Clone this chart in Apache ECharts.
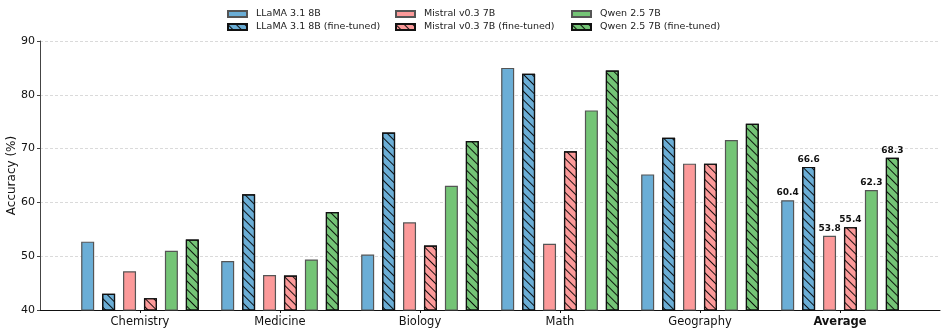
<!DOCTYPE html>
<html>
<head>
<meta charset="utf-8">
<title>Accuracy by subject</title>
<script src="https://cdn.jsdelivr.net/npm/echarts@6/dist/echarts.min.js"></script>
<style>
  html, body { margin: 0; padding: 0; background: #fff; }
  #chart { width: 946px; height: 332px; }
</style>
</head>
<body>
<div id="chart"></div>
<script>
// 数据
var categories = ['Chemistry', 'Medicine', 'Biology', 'Math', 'Geography', 'Average'];
var seriesNames = ['LLaMA 3.1 8B', 'LLaMA 3.1 8B (fine-tuned)', 'Mistral v0.3 7B', 'Mistral v0.3 7B (fine-tuned)', 'Qwen 2.5 7B', 'Qwen 2.5 7B (fine-tuned)'];
var llama     = [52.7, 49.1, 50.3, 85.0, 65.2, 60.4];
var llamaFt   = [43.0, 61.5, 73.0, 83.9, 72.0, 66.6];
var mistral   = [47.2, 46.5, 56.3, 52.3, 67.2, 53.8];
var mistralFt = [42.2, 46.4, 52.0, 69.5, 67.2, 55.4];
var qwen      = [51.0, 49.4, 63.1, 77.1, 71.6, 62.3];
var qwenFt    = [53.1, 58.2, 71.4, 84.5, 74.6, 68.3];
var yTicks = [40, 50, 60, 70, 80, 90];

var font = 'DejaVu Sans';
var colors = ['#6baed6', '#6baed6', '#fc9a9a', '#fc9a9a', '#74c476', '#74c476'];
var hatched = [false, true, false, true, false, true];
var values = [llama, llamaFt, mistral, mistralFt, qwen, qwenFt];

var chart = echarts.init(document.getElementById('chart'));

// 斜线填充 (\\\)，rotation 为正时是反斜线
var hatch = {
    symbol: 'rect',
    symbolSize: 1,
    color: 'rgba(0,0,0,0.9)',
    dashArrayX: [1, 0],
    dashArrayY: [1, 5],
    rotation: Math.PI / 4
};

var series = values.map(function (arr, s) {
    return {
        name: seriesNames[s],
        type: 'bar',
        xAxisIndex: 1,
        yAxisIndex: 1,
        barWidth: 13,
        barGap: '61%',
        itemStyle: {
            color: colors[s],
            borderColor: hatched[s] ? '#111' : '#555',
            borderWidth: 1.2,
            decal: hatched[s] ? hatch : null
        },
        emphasis: { disabled: true },
        data: arr.map(function (v, i) {
            return {
                value: v,
                label: {
                    show: categories[i] === 'Average',
                    position: 'top',
                    distance: 3,
                    fontFamily: font,
                    fontWeight: 'bold',
                    fontSize: 9,
                    color: '#111',
                    formatter: function (p) { return p.value.toFixed(1); }
                }
            };
        })
    };
});

function legendBlock(left, names) {
    return {
        orient: 'vertical',
        left: left,
        top: 9,
        padding: 0,
        itemWidth: 19,
        itemHeight: 6,
        itemGap: 3,
        icon: 'rect',
        data: names,
        textStyle: { fontFamily: font, fontSize: 9.5, color: '#222', padding: [0, 0, 0, 4] }
    };
}

var option = {
    animation: false,
    backgroundColor: '#fff',
    legend: [
        legendBlock(227, seriesNames.slice(0, 2)),
        legendBlock(395, seriesNames.slice(2, 4)),
        legendBlock(571, seriesNames.slice(4, 6))
    ],
    grid: [
        { left: 40, right: 6, top: 41, bottom: 22, outerBoundsMode: 'none' },
        { left: 70, right: 36, top: 41, bottom: 22, outerBoundsMode: 'none' }
    ],
    xAxis: [
        {
            type: 'value', gridIndex: 0, min: 0, max: 1,
            axisLine: { show: true, onZero: false, lineStyle: { color: '#111', width: 1 } },
            axisTick: { show: false }, axisLabel: { show: false }, splitLine: { show: false }
        },
        {
            type: 'category', gridIndex: 1, data: categories,
            axisLine: { show: false },
            axisTick: { show: true, alignWithLabel: true, length: 3, lineStyle: { color: '#111' } },
            axisLabel: {
                fontFamily: font, fontSize: 11.5, color: '#111', margin: 6,
                formatter: function (v) { return v === 'Average' ? '{b|' + v + '}' : v; },
                rich: { b: { fontFamily: font, fontSize: 11.5, fontWeight: 'bold', color: '#111' } }
            }
        }
    ],
    yAxis: [
        {
            type: 'value', gridIndex: 0,
            min: yTicks[0], max: yTicks[yTicks.length - 1], interval: 10,
            name: 'Accuracy (%)', nameLocation: 'middle', nameGap: 22, nameMoveOverlap: false,
            nameTextStyle: { fontFamily: font, fontSize: 12, color: '#111' },
            axisLine: { show: true, onZero: false, lineStyle: { color: '#444', width: 1 } },
            axisTick: { show: true, length: 3, lineStyle: { color: '#444' } },
            axisLabel: { fontFamily: font, fontSize: 11, color: '#111', margin: 5 },
            splitLine: { show: true, lineStyle: { color: '#d0d0d0', type: [3, 2], width: 0.8 } }
        },
        {
            type: 'value', gridIndex: 1, show: false,
            min: yTicks[0], max: yTicks[yTicks.length - 1], interval: 10,
            splitLine: { show: false }
        }
    ],
    series: series
};

chart.setOption(option);
</script>
</body>
</html>
